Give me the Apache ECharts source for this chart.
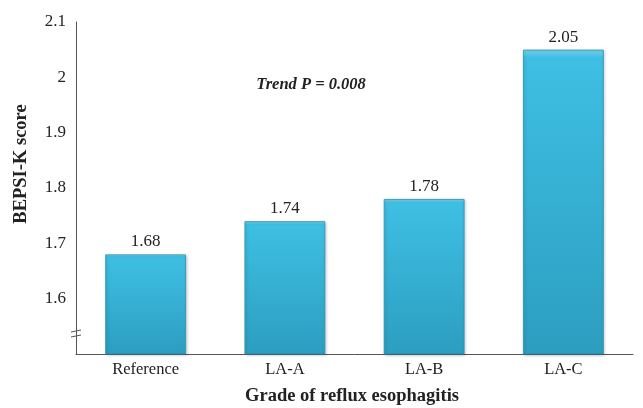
<!DOCTYPE html>
<html><head><meta charset="utf-8">
<script src="https://cdn.jsdelivr.net/npm/echarts@6/dist/echarts.min.js"></script>
<style>html,body{margin:0;padding:0;background:#fff}#c{width:643px;height:408px}</style>
</head><body><div id="c"></div>
<script>
var categories = ['Reference', 'LA-A', 'LA-B', 'LA-C'];
var scores = [1.68, 1.74, 1.78, 2.05];
var yTicks = [1.6, 1.7, 1.8, 1.9, 2, 2.1];
var annotation = 'Trend P = 0.008';
var xTitle = 'Grade of reflux esophagitis';
var yTitle = 'BEPSI-K score';

var chart = echarts.init(document.getElementById('c'));
var serif = '"Liberation Serif", "DejaVu Serif", serif';
chart.setOption({
  animation: false,
  grid: { left: 76, right: 10, top: 22, bottom: 54, containLabel: false, outerBoundsMode: 'none' },
  xAxis: {
    type: 'category', data: categories,
    axisLine: { lineStyle: { color: '#555', width: 1 } },
    axisTick: { show: false },
    axisLabel: { color: '#222', fontFamily: serif, fontSize: 16.5, margin: 7 }
  },
  yAxis: {
    type: 'value', min: 1.5, max: 2.1, interval: 0.1,
    axisLine: { show: true, lineStyle: { color: '#555', width: 1 } },
    axisTick: { show: false },
    splitLine: { show: false },
    axisLabel: {
      color: '#222', fontFamily: serif, fontSize: 17, margin: 10,
      formatter: function (v) {
        var r = Math.round(v * 10) / 10;
        return yTicks.indexOf(r) >= 0 ? String(r) : '';
      }
    }
  },
  series: [{
    type: 'bar', data: scores, barWidth: '58%',
    itemStyle: {
      color: new echarts.graphic.LinearGradient(0, 0, 0, 1, [
        { offset: 0, color: '#7fd6ef' },
        { offset: 0.025, color: '#3ebfe3' },
        { offset: 1, color: '#2c9ec0' }
      ]),
      borderColor: '#2a93b5', borderWidth: 0.8,
      shadowColor: 'rgba(0,0,0,0.25)', shadowBlur: 3, shadowOffsetX: 1, shadowOffsetY: 1
    },
    label: {
      show: true, position: 'top', distance: 4, color: '#222',
      fontFamily: serif, fontSize: 17,
      formatter: function (p) { return p.value.toFixed(2); }
    }
  }],
  graphic: [
    { type: 'text', rotation: Math.PI / 2, x: 21, y: 164,
      style: { text: yTitle, fill: '#222', font: 'bold 18.5px ' + serif,
               textAlign: 'center', textVerticalAlign: 'middle' } },
    { type: 'text', x: 352, y: 396,
      style: { text: xTitle, fill: '#222', font: 'bold 18.5px ' + serif,
               textAlign: 'center', textVerticalAlign: 'middle' } },
    { type: 'text', x: 311, y: 85,
      style: { text: annotation, fill: '#222', font: 'italic bold 16.5px ' + serif,
               textAlign: 'center', textVerticalAlign: 'middle' } },
    { type: 'rect', shape: { x: 72, y: 329, width: 9, height: 9 }, style: { fill: '#fff' } },
    { type: 'line', shape: { x1: 71, y1: 332, x2: 81, y2: 330 }, style: { stroke: '#555', lineWidth: 1 } },
    { type: 'line', shape: { x1: 71, y1: 337, x2: 81, y2: 335 }, style: { stroke: '#555', lineWidth: 1 } }
  ]
});
</script></body></html>
